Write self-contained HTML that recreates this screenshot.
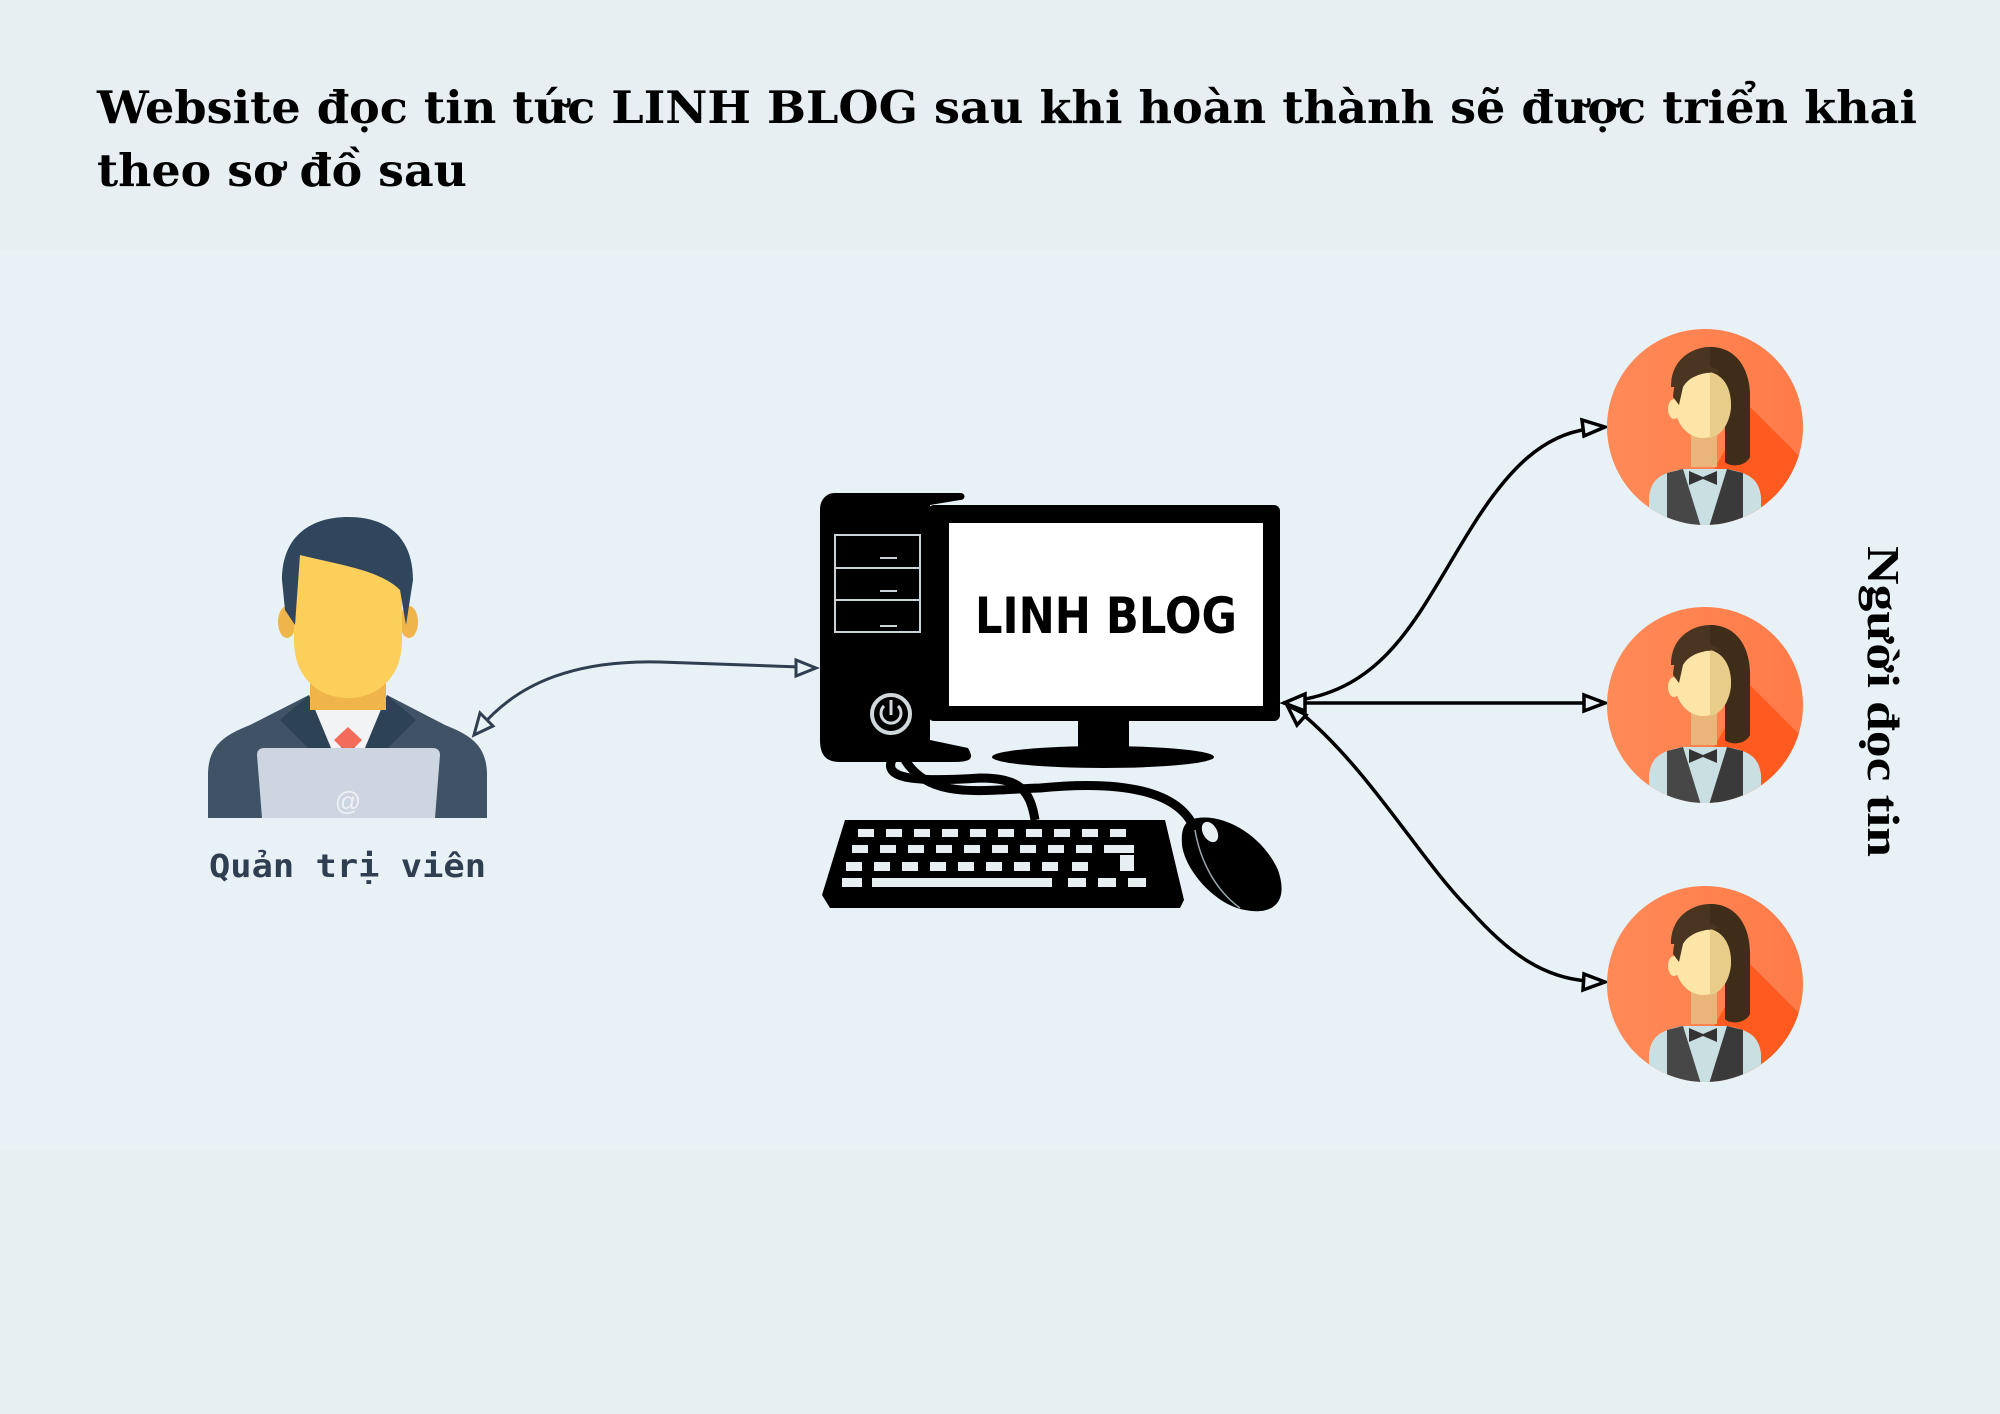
<!DOCTYPE html>
<html><head><meta charset="utf-8"><style>
html,body{margin:0;padding:0;background:#e8eff3;}
svg{display:block}
</style></head><body>
<svg width="2000" height="1414" viewBox="0 0 2000 1414" xmlns="http://www.w3.org/2000/svg">
<defs>
<clipPath id="cc"><circle cx="0" cy="0" r="98"/></clipPath>
<linearGradient id="og" x1="0" y1="0" x2="1" y2="0"><stop offset="0" stop-color="#ff8a58"/><stop offset="1" stop-color="#ff7b48"/></linearGradient>
<g id="woman">
<circle cx="0" cy="0" r="98" fill="url(#og)"/>
<g clip-path="url(#cc)">
<polygon points="45,-20 140,75 140,200 10,200 10,40" fill="#ff5a1f"/>
<path d="M-56,100 L-56,70 C-54,52 -44,46 -22,42 L22,42 C44,46 54,52 56,70 L56,100Z" fill="#c9dfe1"/>
<path d="M-38,46 L-22,42 L-4,100 L-38,100Z" fill="#474747"/>
<path d="M38,46 L22,42 L4,100 L38,100Z" fill="#3a3a3a"/>
</g>
<path d="M-34,-40 C-34,-70 -10,-80 5,-80 C30,-80 45,-60 45,-30 L45,30 C40,40 25,40 20,35 L20,-40Z" fill="#4a3520"/>
<path d="M5,-80 C30,-80 45,-60 45,-30 L45,30 C40,40 25,40 20,35 L20,-40 L5,-40Z" fill="#3f2d19"/>
<rect x="-14" y="5" width="26" height="35" fill="#e9b57a"/>
<ellipse cx="-2" cy="-22" rx="28" ry="33" fill="#fde5a8"/>
<path d="M5,-55 L5,11 C20,8 26,-10 26,-22 C26,-40 18,-52 5,-55Z" fill="#e8cd8a"/>
<ellipse cx="-31" cy="-18" rx="6" ry="10" fill="#fde5a8"/>
<path d="M-32,-30 C-30,-65 -5,-70 15,-55 C0,-55 -15,-52 -22,-40 L-26,-22Z" fill="#4a3520"/>
<path d="M-16,44 L-2,50 L12,44 L12,58 L-2,52 L-16,58Z" fill="#333"/>
</g>
</defs>
<rect width="2000" height="1414" fill="#e8eff3"/>
<rect x="0" y="250" width="2000" height="900" fill="#e8f1f6"/>

<text x="97" y="123" font-family="'DejaVu Serif', serif" font-weight="bold" font-size="45" fill="#000" textLength="1820" lengthAdjust="spacingAndGlyphs">Website đọc tin tức LINH BLOG sau khi hoàn thành sẽ được triển khai</text>
<text x="97" y="186" font-family="'DejaVu Serif', serif" font-weight="bold" font-size="45" fill="#000" textLength="370" lengthAdjust="spacingAndGlyphs">theo sơ đồ sau</text>

<!-- admin -->
<g>
<path d="M208,818 L208,775 C208,745 225,735 250,725 L309,695 L387,695 L445,725 C470,735 487,745 487,775 L487,818Z" fill="#3f5266"/>
<path d="M309,695 L330,760 L348,740 L366,760 L387,695Z" fill="#f1f3f4"/>
<path d="M309,695 L280,720 L320,760 L336,760Z" fill="#2e4255"/>
<path d="M387,695 L416,720 L376,760 L360,760Z" fill="#2e4255"/>
<rect x="310" y="665" width="76" height="45" fill="#efb54a"/>
<polygon points="348,727 362,740 348,754 334,740" fill="#f26b5b"/>
<ellipse cx="287" cy="622" rx="9" ry="16" fill="#efb54a"/>
<ellipse cx="409" cy="622" rx="9" ry="16" fill="#efb54a"/>
<path d="M294,545 L402,545 L402,640 C402,680 375,698 348,698 C321,698 294,680 294,640Z" fill="#fccf5a"/>
<path d="M282,580 C282,535 312,517 348,517 C385,517 413,535 413,580 L406,625 L400,590 C380,570 340,565 300,555 L295,625 L285,610Z" fill="#30465d"/>
<path d="M257,755 C257,750 260,748 265,748 L432,748 C437,748 440,750 440,755 L435,818 L262,818Z" fill="#cdd5e0"/>
<text x="348" y="810" font-family="'Liberation Sans',sans-serif" font-size="26" fill="#eef1f4" text-anchor="middle">@</text>
</g>
<text x="209" y="877" font-family="'DejaVu Sans Mono','Liberation Mono',monospace" font-weight="bold" font-size="32" fill="#2f3e50" textLength="277" lengthAdjust="spacingAndGlyphs">Quản trị viên</text>

<!-- computer -->
<g>
<path d="M835,493 L960,493 C966,493 966,500 960,500 L930,505 L930,740 L968,748 C975,760 970,762 950,762 L840,762 C826,762 820,755 820,740 L820,510 C820,500 826,493 835,493Z" fill="#000"/>
<rect x="835" y="535" width="85" height="97" fill="none" stroke="#c9d3d8" stroke-width="2"/>
<line x1="835" y1="568" x2="920" y2="568" stroke="#c9d3d8" stroke-width="2"/>
<line x1="835" y1="600" x2="920" y2="600" stroke="#c9d3d8" stroke-width="2"/>
<line x1="880" y1="558" x2="897" y2="558" stroke="#c9d3d8" stroke-width="2"/>
<line x1="880" y1="591" x2="897" y2="591" stroke="#c9d3d8" stroke-width="2"/>
<line x1="880" y1="626" x2="897" y2="626" stroke="#c9d3d8" stroke-width="2"/>
<circle cx="891" cy="714" r="19" fill="none" stroke="#d0d8dc" stroke-width="4"/>
<path d="M884,706 A10,10 0 1 0 898,706" fill="none" stroke="#d0d8dc" stroke-width="3"/>
<line x1="891" y1="700" x2="891" y2="715" stroke="#d0d8dc" stroke-width="3"/>
<rect x="928" y="505" width="352" height="216" rx="6" fill="#000"/>
<rect x="949" y="523" width="314" height="183" fill="#fff"/>
<text x="1106" y="633" font-family="'DejaVu Sans','Liberation Sans',sans-serif" font-weight="bold" font-size="50" fill="#000" text-anchor="middle" textLength="262" lengthAdjust="spacingAndGlyphs">LINH BLOG</text>
<rect x="1078" y="718" width="51" height="38" fill="#000"/>
<ellipse cx="1103" cy="757" rx="111" ry="11" fill="#000"/>
<path d="M893,758 C880,780 920,782 980,778 C1020,778 1030,790 1035,820" fill="none" stroke="#000" stroke-width="9"/>
<path d="M905,760 C930,800 980,790 1040,788 C1120,780 1180,790 1195,830" fill="none" stroke="#000" stroke-width="9"/>
<path d="M845,820 L1165,820 L1184,900 L1180,908 L830,908 L822,895Z" fill="#000"/>
<g fill="#e8eff3">
<rect x="858" y="829" width="16" height="8"/><rect x="886" y="829" width="16" height="8"/><rect x="914" y="829" width="16" height="8"/><rect x="942" y="829" width="16" height="8"/><rect x="970" y="829" width="16" height="8"/><rect x="998" y="829" width="16" height="8"/><rect x="1026" y="829" width="16" height="8"/><rect x="1054" y="829" width="16" height="8"/><rect x="1082" y="829" width="16" height="8"/><rect x="1110" y="829" width="16" height="8"/>
<rect x="852" y="845" width="16" height="8"/><rect x="880" y="845" width="16" height="8"/><rect x="908" y="845" width="16" height="8"/><rect x="936" y="845" width="16" height="8"/><rect x="964" y="845" width="16" height="8"/><rect x="992" y="845" width="16" height="8"/><rect x="1020" y="845" width="16" height="8"/><rect x="1048" y="845" width="16" height="8"/><rect x="1076" y="845" width="16" height="8"/><rect x="1104" y="845" width="30" height="8"/>
<rect x="846" y="862" width="16" height="9"/><rect x="874" y="862" width="16" height="9"/><rect x="902" y="862" width="16" height="9"/><rect x="930" y="862" width="16" height="9"/><rect x="958" y="862" width="16" height="9"/><rect x="986" y="862" width="16" height="9"/><rect x="1014" y="862" width="16" height="9"/><rect x="1042" y="862" width="16" height="9"/><rect x="1072" y="862" width="16" height="9"/><rect x="1120" y="855" width="14" height="16"/>
<rect x="842" y="878" width="20" height="9"/><rect x="872" y="878" width="180" height="9"/><rect x="1068" y="878" width="18" height="9"/><rect x="1098" y="878" width="18" height="9"/><rect x="1128" y="878" width="18" height="9"/>
</g>
<path d="M1190,820 C1215,810 1260,830 1278,870 C1290,905 1270,915 1245,910 C1215,905 1185,870 1182,845 C1181,830 1184,824 1190,820Z" fill="#000"/>
<path d="M1195,830 C1200,860 1215,890 1240,908" fill="none" stroke="#9aa6ab" stroke-width="1.5"/>
<ellipse cx="1210" cy="832" rx="7" ry="11" fill="#e8eff3" transform="rotate(-30 1210 832)"/>
</g>

<!-- admin arrow -->
<g fill="none" stroke="#2f3e50" stroke-width="3">
<path d="M480,728 C520,680 580,660 660,662 L800,667"/>
</g>
<polygon points="816,668 796,660 796,676" fill="#e8f1f6" stroke="#2f3e50" stroke-width="3"/>
<polygon points="474,735 480,713 493,726" fill="#e8f1f6" stroke="#2f3e50" stroke-width="3"/>

<!-- right arrows -->
<g fill="none" stroke="#000" stroke-width="3.5">
<path d="M1300,700 C1390,685 1420,610 1470,530 C1510,465 1545,435 1588,429"/>
<path d="M1302,703 L1588,703"/>
<path d="M1300,712 C1370,770 1420,860 1470,910 C1510,955 1545,978 1588,981"/>
</g>
<g fill="#e8f1f6" stroke="#000" stroke-width="3.5">
<polygon points="1605,427 1582,420 1584,436"/>
<polygon points="1605,703 1584,695 1584,711"/>
<polygon points="1605,982 1584,974 1583,990"/>
<polygon points="1284,703 1305,694 1305,711"/>
<polygon points="1287,705 1306,715 1297,725"/>
</g>

<use href="#woman" x="1705" y="427"/>
<use href="#woman" x="1705" y="705"/>
<use href="#woman" x="1705" y="984"/>

<text transform="translate(1868,546) rotate(90)" x="0" y="0" font-family="'Liberation Serif',serif" font-weight="bold" font-size="46" fill="#000" textLength="311" lengthAdjust="spacingAndGlyphs">Người đọc tin</text>
</svg>
</body></html>
